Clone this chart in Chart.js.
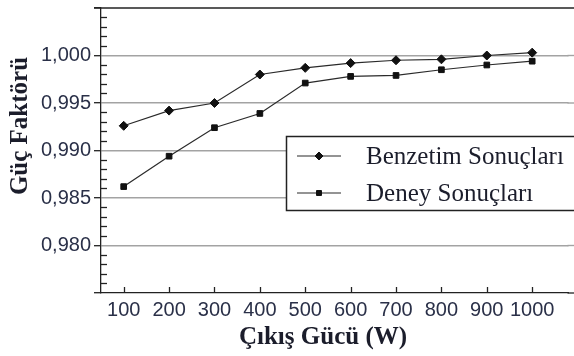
<!DOCTYPE html>
<html>
<head>
<meta charset="utf-8">
<script src="https://cdn.jsdelivr.net/npm/chart.js@4/dist/chart.umd.min.js"></script>
<style>
  html, body { margin: 0; padding: 0; background: #fff; }
  #wrap { width: 574px; height: 356px; position: relative; }
</style>
</head>
<body>
<div id="wrap"><canvas id="c" width="574" height="356"></canvas></div>
<script>
// ---- data ----
const outputPower = [100, 200, 300, 400, 500, 600, 700, 800, 900, 1000];
const simulationPF = [0.9926, 0.9942, 0.9950, 0.9980, 0.9987, 0.9992, 0.9995, 0.9996, 1.0000, 1.0003];
const experimentPF = [0.9862, 0.9894, 0.9924, 0.9939, 0.9971, 0.9978, 0.9979, 0.9985, 0.9990, 0.9994];
const seriesLabels = ['Benzetim Sonuçları', 'Deney Sonuçları'];
const xTickValues = [100, 200, 300, 400, 500, 600, 700, 800, 900, 1000];
const yTickValues = [0.975, 0.980, 0.985, 0.990, 0.995, 1.000, 1.005];
const xTitle = 'Çıkış Gücü (W)';
const yTitle = 'Güç Faktörü';

const INK = '#1b1d2b';
const TICKCOL = '#2a3048';
const LINECOL = '#2a2a2a';
const GRIDCOL = '#a3a3a3';

const toPts = (xs, ys) => xs.map((x, i) => ({ x: x, y: ys[i] }));

const decorPlugin = {
  id: 'decor',
  beforeDatasetsDraw(chart) {
    const ctx = chart.ctx;
    const a = chart.chartArea;
    const ys = chart.scales.y, xs = chart.scales.x;
    ctx.save();
    // gridlines continue to the canvas edge
    ctx.strokeStyle = GRIDCOL;
    ctx.lineWidth = 1.4;
    yTickValues.slice(1, -1).forEach(v => {
      const py = ys.getPixelForValue(v);
      ctx.beginPath();
      ctx.moveTo(a.right - 1, py);
      ctx.lineTo(chart.width, py);
      ctx.stroke();
    });
    ctx.strokeStyle = '#222';
    ctx.lineWidth = 1.3;
    // top border (extends to the canvas edge)
    ctx.beginPath();
    ctx.moveTo(a.left - 7, a.top);
    ctx.lineTo(chart.width, a.top);
    ctx.stroke();
    // x axis line continues to the canvas edge
    ctx.beginPath();
    ctx.moveTo(a.right - 1, a.bottom);
    ctx.lineTo(chart.width, a.bottom);
    ctx.stroke();
    // minor y ticks (inward)
    for (let k = 976; k <= 1004; k++) {
      if (k % 5 === 0) continue;
      const py = Math.round(ys.getPixelForValue(k / 1000)) + 0.5;
      ctx.beginPath();
      ctx.moveTo(a.left, py);
      ctx.lineTo(a.left + 6, py);
      ctx.stroke();
    }
    // x ticks (inward)
    xTickValues.forEach(v => {
      const px = Math.round(xs.getPixelForValue(v)) + 0.5;
      ctx.beginPath();
      ctx.moveTo(px, a.bottom);
      ctx.lineTo(px, a.bottom - 6);
      ctx.stroke();
    });
    ctx.restore();
  },
  afterDraw(chart) {
    const ctx = chart.ctx;
    ctx.save();
    // legend box
    const bx = 286, by = 136, bw = 300, bh = 74;
    ctx.fillStyle = '#fff';
    ctx.fillRect(bx, by, bw, bh);
    ctx.strokeStyle = '#222';
    ctx.lineWidth = 1.5;
    ctx.strokeRect(bx + 0.5, by + 0.5, bw, bh);
    const rows = [156, 193];
    chart.data.datasets.forEach((ds, i) => {
      const cy = rows[i];
      ctx.strokeStyle = ds.borderColor;
      ctx.lineWidth = ds.borderWidth;
      ctx.beginPath();
      ctx.moveTo(297, cy);
      ctx.lineTo(341, cy);
      ctx.stroke();
      ctx.fillStyle = ds.pointBackgroundColor;
      ctx.strokeStyle = ds.pointBorderColor;
      ctx.lineWidth = 1;
      Chart.helpers.drawPoint(ctx, {
        pointStyle: ds.pointStyle,
        radius: ds.pointRadius - 0.5,
        borderWidth: 1
      }, 319, cy);
      ctx.fillStyle = INK;
      ctx.font = '25px "Liberation Serif", "Times New Roman", serif';
      ctx.textBaseline = 'alphabetic';
      ctx.textAlign = 'left';
      ctx.fillText(ds.label, 366, cy + 8);
    });
    // axis titles
    ctx.fillStyle = INK;
    ctx.font = 'bold 25px "Liberation Serif", "Times New Roman", serif';
    ctx.textAlign = 'center';
    ctx.textBaseline = 'middle';
    ctx.fillText(xTitle, 323, 338);
    ctx.translate(21, 126);
    ctx.rotate(-Math.PI / 2);
    ctx.fillText(yTitle, 0, 0);
    ctx.restore();
  }
};

new Chart(document.getElementById('c'), {
  type: 'line',
  data: {
    datasets: [
      {
        label: seriesLabels[0],
        data: toPts(outputPower, simulationPF),
        borderColor: LINECOL, borderWidth: 1.2,
        pointStyle: 'rectRot', pointRadius: 4.5,
        pointBackgroundColor: '#111', pointBorderColor: '#111', pointBorderWidth: 1,
        fill: false, tension: 0, clip: false
      },
      {
        label: seriesLabels[1],
        data: toPts(outputPower, experimentPF),
        borderColor: LINECOL, borderWidth: 1.2,
        pointStyle: 'rect', pointRadius: 4,
        pointBackgroundColor: '#111', pointBorderColor: '#111', pointBorderWidth: 1,
        fill: false, tension: 0, clip: false
      }
    ]
  },
  plugins: [decorPlugin],
  options: {
    responsive: false,
    animation: false,
    devicePixelRatio: 1,
    layout: { padding: { top: 0, right: 0, left: 0, bottom: 0 } },
    plugins: { legend: { display: false }, tooltip: { enabled: false } },
    scales: {
      x: {
        type: 'linear', min: 50, max: 1080,
        afterBuildTicks(s) { s.ticks = xTickValues.map(v => ({ value: v })); },
        afterFit(s) { s.height = 63; s.paddingLeft = 0; s.paddingRight = 0; },
        grid: { drawOnChartArea: false, drawTicks: false },
        border: { display: true, color: '#222', width: 1.3 },
        ticks: {
          color: TICKCOL, padding: 5, maxRotation: 0, autoSkip: false,
          font: { family: '"Liberation Sans", Arial, sans-serif', size: 20 },
          callback: v => String(v)
        }
      },
      y: {
        min: 0.975, max: 1.005,
        afterBuildTicks(s) { s.ticks = yTickValues.map(v => ({ value: v })); },
        afterFit(s) { s.width = 101; s.paddingTop = 8; s.paddingBottom = 0; },
        grid: {
          color: ctx => (ctx.index === 0 || ctx.index === yTickValues.length - 1) ? 'rgba(0,0,0,0)' : GRIDCOL,
          lineWidth: 1.4,
          tickColor: '#222', tickLength: 7, tickWidth: 1.3
        },
        border: { display: true, color: '#222', width: 1.3 },
        ticks: {
          color: TICKCOL, padding: 3, autoSkip: false,
          font: { family: '"Liberation Sans", Arial, sans-serif', size: 20 },
          callback: (v, i) => (i === 0 || i === yTickValues.length - 1) ? '' : Number(v).toFixed(3).replace('.', ',')
        }
      }
    }
  }
});
</script>
</body>
</html>
